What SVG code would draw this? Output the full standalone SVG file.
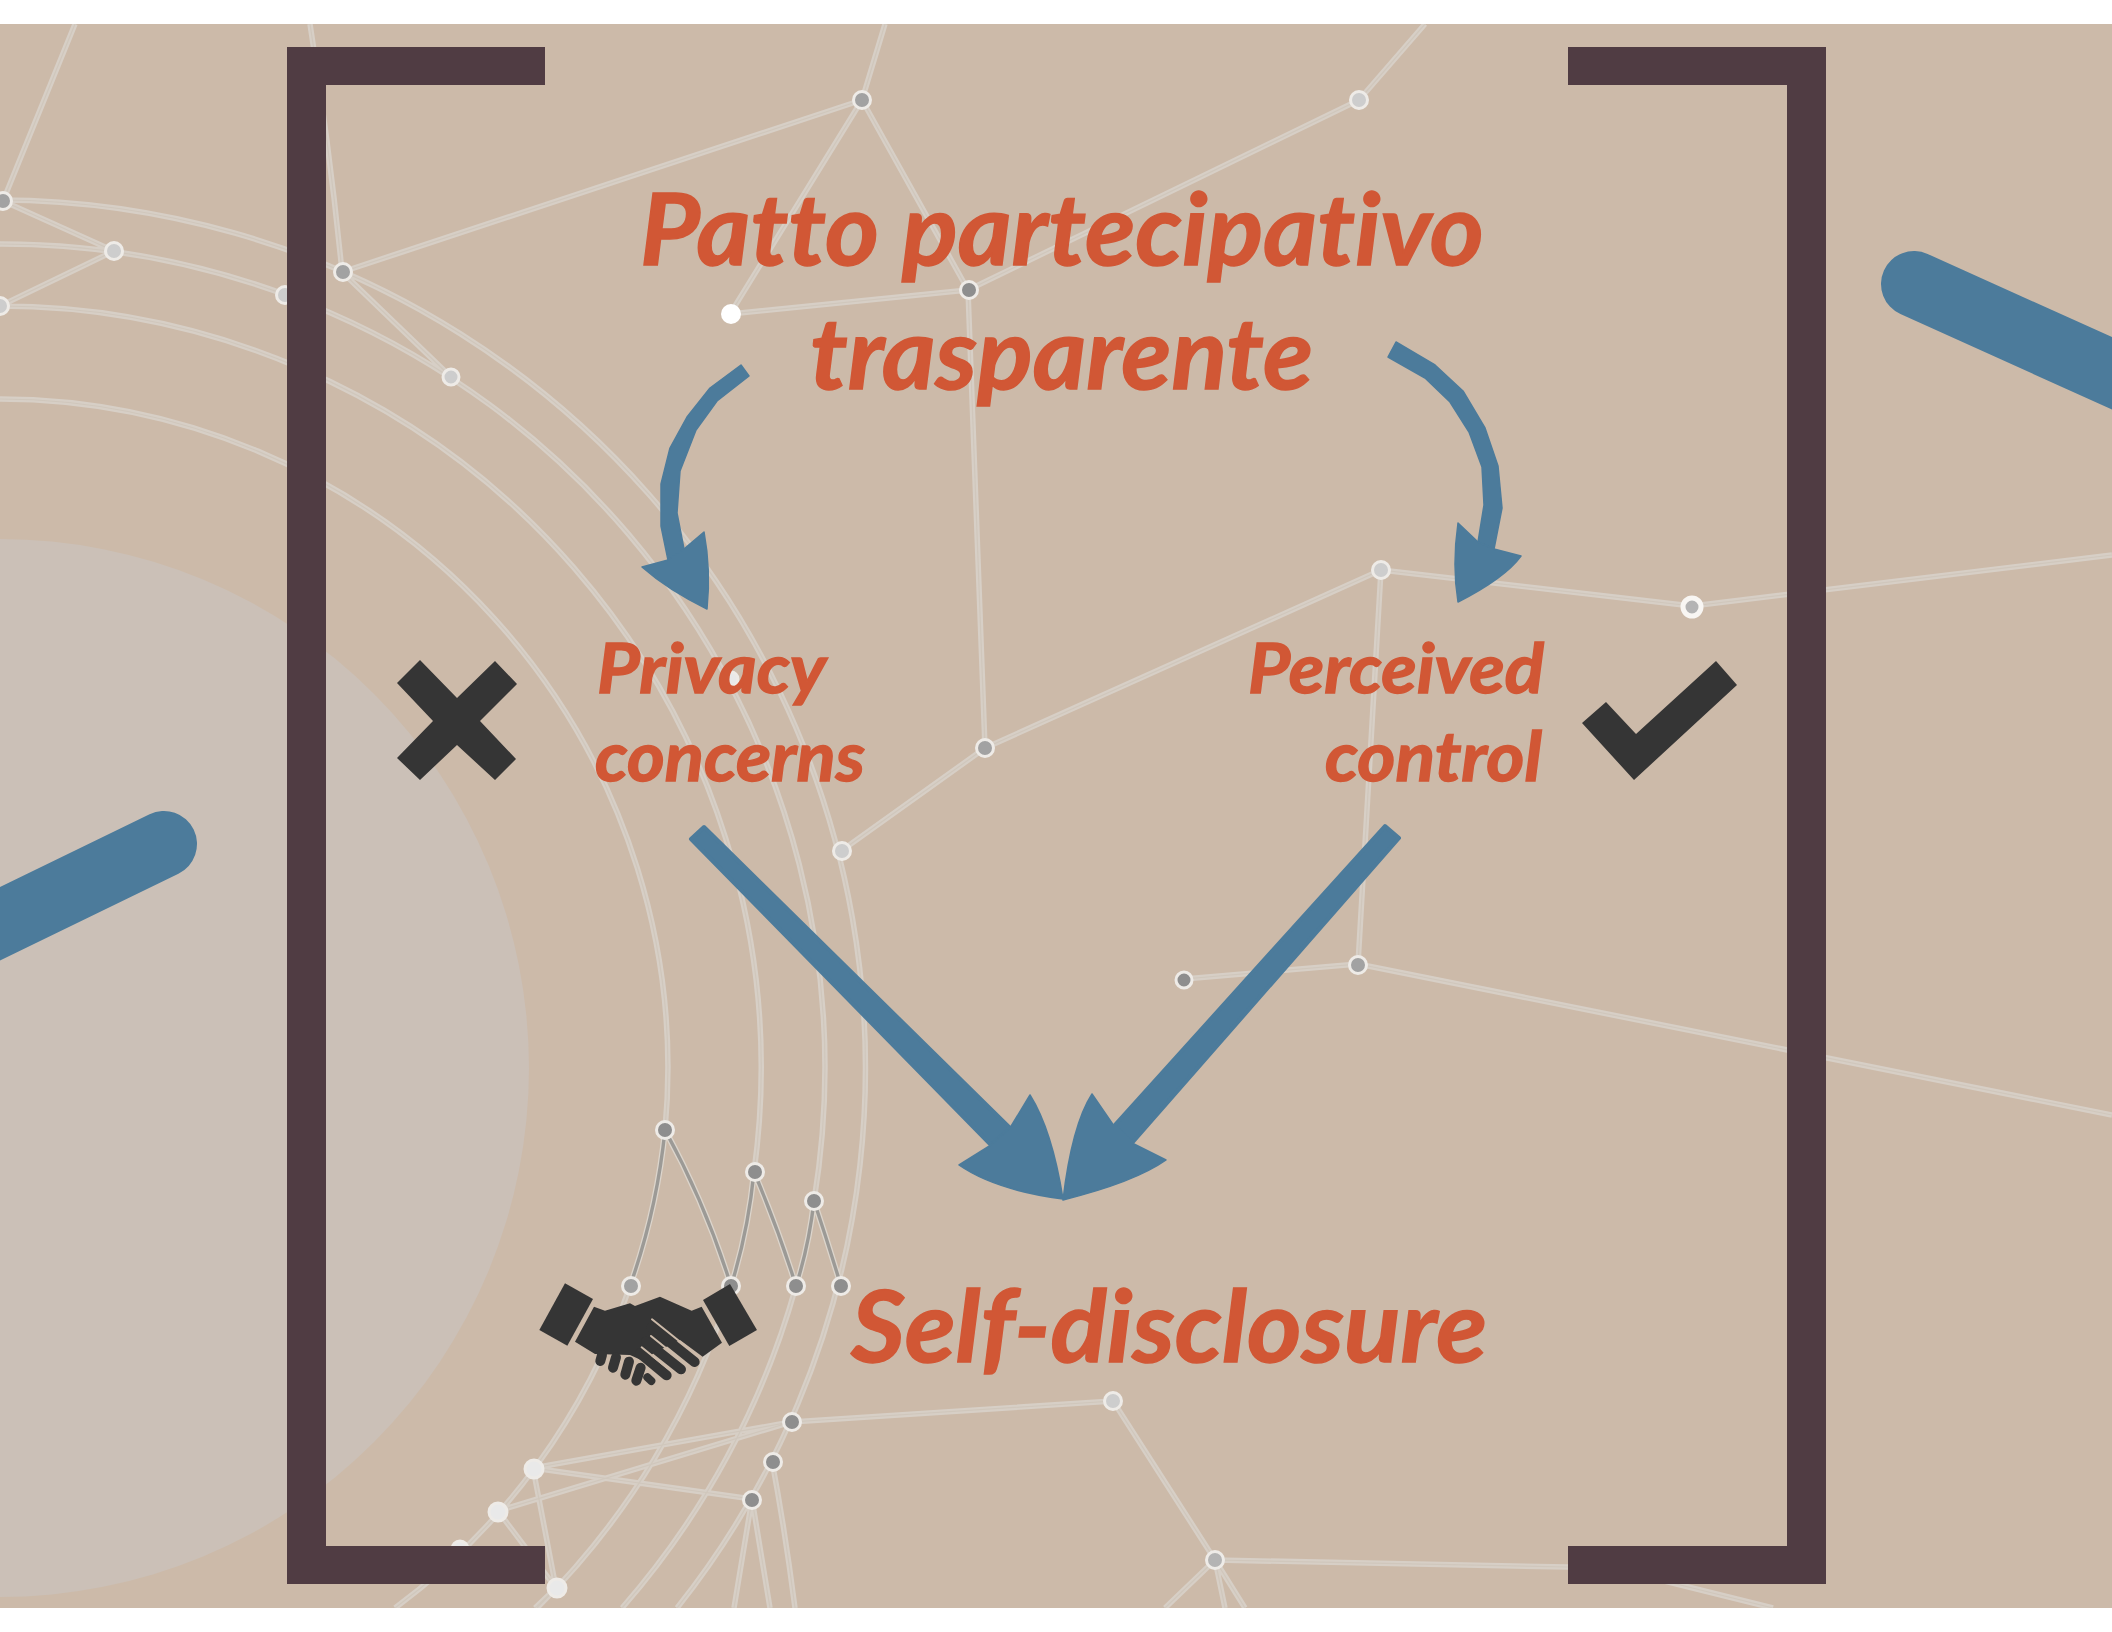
<svg xmlns="http://www.w3.org/2000/svg" xmlns:xlink="http://www.w3.org/1999/xlink" width="2112" height="1632" viewBox="0 0 2112 1632">
<style>
.net{fill:none;stroke:#d7cfc6;stroke-width:5.5}
.core{fill:none;stroke:#d0c7bc;stroke-width:1.2}
.hd{fill:none;stroke:#dcd5cc;stroke-width:6}
.hc{fill:none;stroke:#9c9a96;stroke-width:3.4}
.n{stroke:#eeebe7;stroke-width:3}
.a{fill:#e9e9e9}.b{fill:#cdcdcd}.c{fill:#b4b4b4}.d{fill:#a2a2a2}.e{fill:#8e8e8e}.w{fill:#fff}
.bk{fill:#503c43}
.sh{fill:none;stroke:#4c7b9b;stroke-linecap:round;stroke-linejoin:round}
.hd2{fill:#4c7b9b;stroke:#4c7b9b;stroke-width:1.5;stroke-linejoin:round}
.mk{fill:#353535}
.t{font-family:"Lato","Liberation Sans",sans-serif;font-weight:700;font-style:italic;fill:#d15735;stroke:#d15735;stroke-width:1.4;font-variant-ligatures:none}
.big{font-size:100px}.sm{font-size:68px}
</style>
<defs>
<clipPath id="page"><rect x="0" y="24" width="2112" height="1584"/></clipPath>
<path id="lines" d="M0,200A868,868 0 0 1 677,1608M0,244A824,824 0 0 1 814,1201M796,1286A824,824 0 0 1 622,1608M0,306A762,762 0 0 1 754,1172M731,1286A762,762 0 0 1 537,1608M0,399A669,669 0 0 1 665,1130M630,1286A669,669 0 0 1 395,1608M862,100L342,272M862,100L730,314M862,100L968,290M862,100L885,24M1359,100L1425,24M1359,100L968,290M730,314L968,290M968,290L985,748M985,748L841,851M985,748L1381,570M1381,570L1692,606M1692,606L2112,555M1381,570L1358,964M1358,964L1184,979M1358,964L2112,1115M3,201L75,24M3,201L114,251M114,251L0,306M342,272L451,377M342,272Q330,150 310,24M1113,1401L791,1422M1113,1401L1215,1560M1215,1560L1568,1567L1620,1570L1773,1608M1215,1560L1165,1608M1215,1560L1225,1608M1215,1560L1245,1608M533,1468L791,1422M533,1468L752,1499M498,1511L791,1422M533,1468L556,1588M498,1511L556,1588M752,1499L734,1608M752,1499L770,1608M772,1461Q785,1530 795,1608M556,1588L535,1608"/>
<path id="hlines" d="M665,1130A669,669 0 0 1 630,1286M665,1130Q706,1205 731,1286M731,1286Q748,1232 754,1172M754,1172Q778,1228 796,1286M796,1286Q809,1245 814,1201M814,1201Q828,1243 841,1286"/>
</defs>
<rect x="0" y="24" width="2112" height="1584" fill="#ccbaa9"/>
<circle cx="0" cy="1068" r="529" fill="#cbc0b7"/>
<g id="connectors" clip-path="url(#page)">
<use href="#lines" class="net"/>
<use href="#lines" class="core"/>
<use href="#hlines" class="hd"/>
<use href="#hlines" class="hc"/>
</g>
<g clip-path="url(#page)">
<g id="n1"><circle class="n d" cx="862" cy="100" r="8.5"/></g>
<g id="n2"><circle class="n b" cx="1359" cy="100" r="8.5"/></g>
<g id="n3"><circle class="n d" cx="3" cy="201" r="8.5"/></g>
<g id="n4"><circle class="n b" cx="114" cy="251" r="8.5"/></g>
<g id="n5"><circle class="n b" cx="0" cy="306" r="8.5"/></g>
<g id="n6"><circle class="n b" cx="285" cy="295" r="8.5"/></g>
<g id="n7"><circle class="n d" cx="343" cy="272" r="8.5"/></g>
<g id="n8"><circle class="n b" cx="451" cy="377" r="8"/></g>
<g id="n9"><circle class="w" cx="731" cy="314" r="10"/></g>
<g id="n10"><circle class="n e" cx="969" cy="290" r="8.5"/></g>
<g id="n11"><circle class="n b" cx="1381" cy="570" r="8.5"/></g>
<g id="n12"><circle class="c" cx="1692" cy="607" r="9" stroke="#f8f6f3" stroke-width="5"/></g>
<g id="n13"><circle class="n d" cx="985" cy="748" r="8.5"/></g>
<g id="n14"><circle class="n b" cx="842" cy="851" r="8.5"/></g>
<g id="n15"><circle class="n a" cx="731" cy="679" r="7"/></g>
<g id="n16"><circle class="n e" cx="1184" cy="980" r="8"/></g>
<g id="n17"><circle class="n d" cx="1358" cy="965" r="8.5"/></g>
<g id="n18"><circle class="n e" cx="665" cy="1130" r="8.5"/></g>
<g id="n19"><circle class="n e" cx="755" cy="1172" r="8.5"/></g>
<g id="n20"><circle class="n e" cx="814" cy="1201" r="8.5"/></g>
<g id="n21"><circle class="n d" cx="631" cy="1286" r="8.5"/></g>
<g id="n22"><circle class="n e" cx="731" cy="1286" r="8.5"/></g>
<g id="n23"><circle class="n e" cx="796" cy="1286" r="8.5"/></g>
<g id="n24"><circle class="n e" cx="841" cy="1286" r="8.5"/></g>
<g id="n25"><circle class="n e" cx="792" cy="1422" r="8.5"/></g>
<g id="n26"><circle class="n b" cx="1113" cy="1401" r="8.5"/></g>
<g id="n27"><circle class="n a" cx="534" cy="1469" r="9"/></g>
<g id="n28"><circle class="n e" cx="773" cy="1462" r="8.5"/></g>
<g id="n29"><circle class="n e" cx="752" cy="1500" r="8.5"/></g>
<g id="n30"><circle class="n a" cx="498" cy="1512" r="9"/></g>
<g id="n31"><circle class="n a" cx="460" cy="1549" r="8"/></g>
<g id="n32"><circle class="n a" cx="557" cy="1588" r="9"/></g>
<g id="n33"><circle class="n c" cx="1215" cy="1560" r="8.5"/></g>
</g>
<g id="blue-strokes" clip-path="url(#page)">
<path class="sh" stroke-width="66" d="M1914,284L2180,404"/>
<path class="sh" stroke-width="66" d="M164,844L-60,953"/>
</g>
<g id="arrow-left-curved">
<path class="hd2" stroke-width="3" d="M741,365L710,388L687,417L670,448L661,484L661,526L668,560L684,549L677,513L680,471L696,430L717,401L749,376Z"/>
<path class="hd2" d="M642,567L668,560L684,549L704,532Q711,570 707,609Q668,590 642,567Z"/>
</g>
<g id="arrow-right-curved">
<path class="hd2" d="M1396,342L1435,365L1463,391L1485,428L1498,466L1502,508L1494,549L1478,542L1484,505L1482,467L1469,432L1450,402L1425,378L1388,357Z"/>
<path class="hd2" d="M1458,523L1478,542L1494,549L1521,556Q1505,578 1458,602Q1452,565 1458,523Z"/>
</g>
<g id="arrow-left-big">
<path class="hd2" style="stroke-width:4" d="M704,827L691,839L991,1145L1010,1128Z"/>
<path class="hd2" d="M1030,1095Q1052,1130 1063,1199Q995,1190 959,1165L991,1145L1010,1128Z"/>
</g>
<g id="arrow-right-big">
<path class="hd2" style="stroke-width:4" d="M1385,826L1399,838L1132,1143L1114,1126Z"/>
<path class="hd2" d="M1092,1094L1114,1126L1132,1143L1166,1160Q1135,1182 1063,1200Q1072,1125 1092,1094Z"/>
</g>
<g id="bracket-left"><path class="bk" d="M287,47H545V85H326V1546H545V1584H287Z"/></g>
<g id="bracket-right"><path class="bk" d="M1568,47H1826V1584H1568V1546H1787V85H1568Z"/></g>
<g id="cross"><path class="mk" d="M420,660L457,698L495,661L517,684L480,721L516,759L495,780L457,745L420,780L397,758L433,721L397,683Z"/></g>
<g id="check"><path class="mk" d="M1716,661L1737,685L1634,780L1582,723L1606,702L1636,734Z"/></g>
<g id="handshake" transform="translate(520 1100) scale(0.3333)">
<path class="mk" d="M135,550L219,597L142,737L58,690Z"/>
<path class="mk" d="M630,552L711,690L628,738L549,600Z"/>
<path class="mk" d="M222,620L255,632L330,610L345,618L420,590L515,632L545,620L606,728L548,770L480,720L400,760L375,785L330,765L225,762L165,725Z"/>
<path fill="none" stroke="#353535" stroke-width="30" stroke-linecap="round" d="M395,683L524,786M378,725L483,808M360,760L440,826"/>
<path fill="none" stroke="#353535" stroke-width="30" stroke-linecap="round" d="M246,765L241,783M288,772L279,803M327,785L316,824M362,803L349,842"/>
<path fill="none" stroke="#353535" stroke-width="24" stroke-linecap="round" d="M382,832L394,843"/>
<path fill="none" stroke="#ccbaa9" stroke-width="6" stroke-linecap="round" d="M396,658L542,775M393,708L505,798M365,742L462,820"/>
</g>
<g id="labels">
<text class="t big" x="640" y="265" textLength="844" lengthAdjust="spacingAndGlyphs">Patto partecipativo</text>
<text class="t big" x="810" y="389" textLength="503" lengthAdjust="spacingAndGlyphs">trasparente</text>
<text class="t sm" x="597" y="693" textLength="229" lengthAdjust="spacingAndGlyphs">Privacy</text>
<text class="t sm" x="595" y="781" textLength="270" lengthAdjust="spacingAndGlyphs">concerns</text>
<text class="t sm" x="1248" y="693" textLength="296" lengthAdjust="spacingAndGlyphs">Perceived</text>
<text class="t sm" x="1325" y="781" textLength="217" lengthAdjust="spacingAndGlyphs">control</text>
<text class="t big" x="851" y="1362" textLength="636" lengthAdjust="spacingAndGlyphs">Self-disclosure</text>
</g>
</svg>
